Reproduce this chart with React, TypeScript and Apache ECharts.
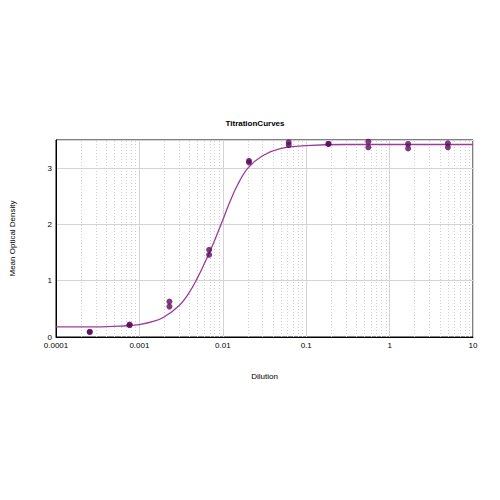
import React, { useEffect, useRef } from "react";
import * as echarts from "echarts";

// Measured points (3-fold dilutions, duplicates)
const dilutions = [0.000254, 0.000762, 0.00229, 0.00686, 0.0206, 0.0617, 0.185, 0.556, 1.667, 5];
const replicateA = [0.09, 0.21, 0.63, 1.55, 3.13, 3.46, 3.43, 3.47, 3.43, 3.44];
const replicateB = [0.09, 0.22, 0.54, 1.46, 3.10, 3.41, 3.43, 3.37, 3.35, 3.37];

// Fitted curve
const curveX = [0.0001, 0.0003, 0.0007, 0.001, 0.0015, 0.002, 0.003, 0.004, 0.005, 0.006, 0.007, 0.008, 0.01, 0.012, 0.015, 0.02, 0.03, 0.05, 0.1, 0.3, 1, 10];
const curveY = [0.18, 0.18, 0.2, 0.22, 0.28, 0.36, 0.56, 0.8, 1.06, 1.3, 1.52, 1.72, 2.08, 2.38, 2.7, 3.0, 3.22, 3.35, 3.4, 3.42, 3.42, 3.42];

const xTickLabels = ["0.0001", "0.001", "0.01", "0.1", "1", "10"];
const minorGridValues = [
  0.0002, 0.0003, 0.0004, 0.0005, 0.0006, 0.0007, 0.0008, 0.0009,
  0.002, 0.003, 0.004, 0.005, 0.006, 0.007, 0.008, 0.009,
  0.02, 0.03, 0.04, 0.05, 0.06, 0.07, 0.08, 0.09,
  0.2, 0.3, 0.4, 0.5, 0.6, 0.7, 0.8, 0.9,
  2, 3, 4, 5, 6, 7, 8, 9,
];

const FONT = "Liberation Sans";

export default function App() {
  const ref = useRef<HTMLDivElement>(null);
  useEffect(() => {
    if (!ref.current) return;
    const chart = echarts.init(ref.current, null, { renderer: "svg" });
    const points: number[][] = [];
    dilutions.forEach((d, i) => {
      points.push([d, replicateA[i]]);
      points.push([d, replicateB[i]]);
    });
    chart.setOption({
      animation: false,
      backgroundColor: "#fff",
      title: {
        text: "TitrationCurves",
        left: 250,
        top: 114,
        textAlign: "center",
        textStyle: { fontFamily: FONT, fontSize: 8, fontWeight: "bold", color: "#000" },
      },
      grid: {
        left: 54,
        right: 27,
        top: 140,
        bottom: 163,
        show: true,
        borderColor: "#000",
        borderWidth: 1,
        backgroundColor: "#fff",
      },
      xAxis: {
        type: "log",
        logBase: 10,
        min: 0.0001,
        max: 10,
        name: "Dilution",
        nameLocation: "middle",
        nameGap: 35,
        nameTextStyle: { fontFamily: FONT, fontSize: 8, color: "#000" },
        axisLine: { show: true, lineStyle: { color: "#000", width: 1 } },
        axisTick: { show: false },
        axisLabel: {
          fontFamily: FONT,
          fontSize: 8,
          color: "#000",
          margin: 4,
          formatter: (_v: number, i: number) => xTickLabels[i] ?? "",
        },
        splitLine: { show: true, lineStyle: { color: "#d4d4d4", width: 1 } },
      },
      yAxis: {
        type: "value",
        min: 0,
        max: 3.5,
        interval: 1,
        name: "Mean Optical Density",
        nameLocation: "middle",
        nameGap: 40,
        nameRotate: 90,
        nameTextStyle: { fontFamily: FONT, fontSize: 8, color: "#000" },
        axisLine: { show: true, lineStyle: { color: "#000", width: 1 } },
        axisTick: { show: false },
        axisLabel: { fontFamily: FONT, fontSize: 8, color: "#000", margin: 4, showMaxLabel: false },
        splitLine: { show: true, lineStyle: { color: "#d4d4d4", width: 1 } },
      },
      series: [
        {
          type: "line",
          data: curveX.map((x, i) => [x, curveY[i]]),
          smooth: 0.4,
          showSymbol: false,
          lineStyle: { color: "#9c3c9c", width: 1.3 },
          z: 3,
          markLine: {
            silent: true,
            symbol: "none",
            precision: 6,
            label: { show: false },
            lineStyle: { color: "#d0d0d0", type: [1, 2], width: 1 },
            data: minorGridValues.map((v) => ({ xAxis: v })),
            z: 1,
          },
        },
        {
          type: "scatter",
          data: points,
          symbolSize: 6,
          itemStyle: { color: "#5e0a5e" },
          z: 4,
        },
      ],
    });
    return () => chart.dispose();
  }, []);
  return <div ref={ref} style={{ width: 500, height: 500, position: "absolute", left: 0, top: 0 }} />;
}
